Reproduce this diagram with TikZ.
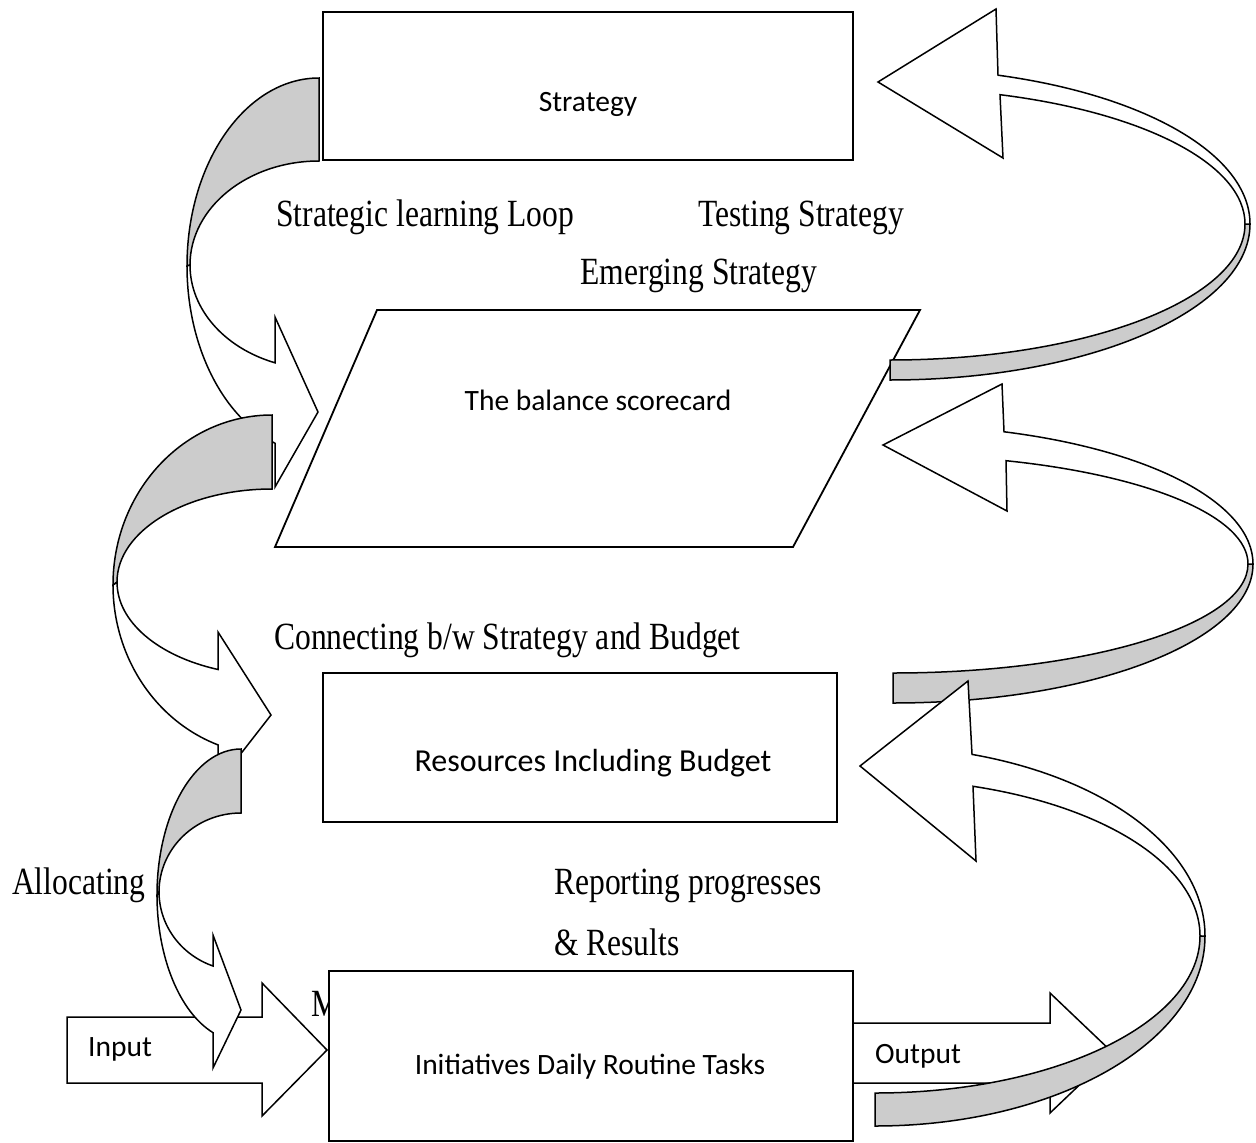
\documentclass[tikz,border=0pt]{standalone}
\usepackage{fontspec}
\setmainfont{Carlito}
\newfontfamily\serifface[FakeStretch=0.82]{Liberation Serif}
\begin{document}
\begin{tikzpicture}[x=1pt,y=-1pt,
  outline/.style={draw=black, line width=1.5pt, line join=miter, fill=white},
  backband/.style={outline, fill=black!20},
  boxshape/.style={draw=black, fill=white, rectangle, inner sep=0pt, line width=1.8pt},
  sanslabel/.style={font=\fontsize{29.5}{35}\selectfont, inner sep=0pt, anchor=base},
  seriflabel/.style={font=\serifface\fontsize{38.5}{46}\selectfont, inner sep=0pt, anchor=base west},
]
\useasboundingbox (0,0) rectangle (1256,1143);

% partly hidden caption behind the tasks box
\node[seriflabel] (mlbl) at (311,1016) {M};

% main boxes
\node[boxshape, minimum width=530pt, minimum height=148pt] (strategy) at (588,86) {};
\draw[outline, line width=1.8pt] (377,310) -- (920,310) -- (793,547) -- (275,547) -- cycle;
\node[boxshape, minimum width=514pt, minimum height=149pt] (resources) at (580,747.5) {};
\node[boxshape, minimum width=524pt, minimum height=170pt] (tasks) at (591,1056) {};

\node[sanslabel] (strategylbl) at (588,111) {Strategy};
\node[sanslabel] (scorecard) at (598,410) {The balance scorecard};
\node[sanslabel, font=\fontsize{32}{38}\selectfont] (resourceslbl) at (593,771) {Resources Including Budget};
\node[sanslabel] (taskslbl) at (590,1074) {Initiatives Daily Routine Tasks};

% straight block arrows
\draw[outline] (67,1017) -- (262,1017) -- (262,983) -- (327,1050) -- (262,1116)
  -- (262,1083) -- (67,1083) -- cycle;
\node[sanslabel, anchor=base west] (inputlbl) at (88,1056) {Input};
\draw[outline] (853,1023) -- (1050,1023) -- (1050,993) -- (1113,1053) -- (1050,1113)
  -- (1050,1083) -- (853,1083) -- cycle;
\node[sanslabel, anchor=base west] (outputlbl) at (875,1063) {Output};

% left curved arrows (top, middle, bottom)
\draw[backband] (319,78) arc[start angle=270, end angle=180, x radius=132, y radius=188]
  -- (190,265) arc[start angle=180, end angle=270, x radius=129, y radius=104] -- cycle;
\draw[outline] (187,266) arc[start angle=180, end angle=109.47, x radius=132, y radius=188]
  -- (275,487) -- (318,412) -- (275,317) -- (275,362.8)
  arc[start angle=109.94, end angle=180, x radius=129, y radius=104] -- cycle;

\draw[backband] (272,415) arc[start angle=270, end angle=180, x radius=159, y radius=170]
  -- (117,582) arc[start angle=180, end angle=270, x radius=155, y radius=93] -- cycle;
\draw[outline] (113,585) arc[start angle=180, end angle=109.85, x radius=159, y radius=170]
  -- (218,783) -- (271,715) -- (218,632) -- (218,669.5)
  arc[start angle=110.41, end angle=180, x radius=155, y radius=93] -- cycle;

\draw[backband] (241,749) arc[start angle=270, end angle=180, x radius=84, y radius=146]
  -- (159,892) arc[start angle=180, end angle=270, x radius=82, y radius=79] -- cycle;
\draw[outline] (157,895) arc[start angle=180, end angle=109.47, x radius=84, y radius=146]
  -- (213,1068) -- (241,1010) -- (213,935) -- (213,966)
  arc[start angle=109.98, end angle=180, x radius=82, y radius=79] -- cycle;

% right curved arrows (top, middle, bottom)
\draw[backband] (890,360) arc[start angle=90, end angle=0, x radius=355, y radius=136]
  -- (1250,224) arc[start angle=0, end angle=90, x radius=360, y radius=156] -- cycle;
\draw[outline] (1250,224) arc[start angle=0, end angle=-72.54, x radius=360, y radius=156]
  -- (996,9) -- (878,82) -- (1003,158) -- (1000,94.7)
  arc[start angle=-71.95, end angle=0, x radius=355, y radius=136] -- cycle;

\draw[backband] (893,673) arc[start angle=90, end angle=0, x radius=355, y radius=109]
  -- (1253,564) arc[start angle=0, end angle=90, x radius=360, y radius=139] -- cycle;
\draw[outline] (1253,564) arc[start angle=0, end angle=-72.04, x radius=360, y radius=139]
  -- (1002,384) -- (883,445) -- (1007,511) -- (1006,460.7)
  arc[start angle=-71.44, end angle=0, x radius=355, y radius=109] -- cycle;

\draw[backband] (875,1093) arc[start angle=90, end angle=0, x radius=325, y radius=157]
  -- (1205,936) arc[start angle=0, end angle=90, x radius=330, y radius=190] -- cycle;
\draw[outline] (1205,936) arc[start angle=0, end angle=-72.9, x radius=330, y radius=190]
  -- (968,681) -- (860,766) -- (976,861) -- (973,786.3)
  arc[start angle=-72.45, end angle=0, x radius=325, y radius=157] -- cycle;

% free captions
\node[seriflabel] (learning) at (276,226) {Strategic learning Loop};
\node[seriflabel] (testing) at (698,226) {Testing Strategy};
\node[seriflabel] (emerging) at (580,284) {Emerging Strategy};
\node[seriflabel] (connecting) at (274,649) {Connecting b/w Strategy and Budget};
\node[seriflabel] (allocating) at (12,894) {Allocating};
\node[seriflabel] (reporting) at (554,894) {Reporting progresses};
\node[seriflabel] (results) at (554,955) {\& Results};
\end{tikzpicture}
\end{document}
